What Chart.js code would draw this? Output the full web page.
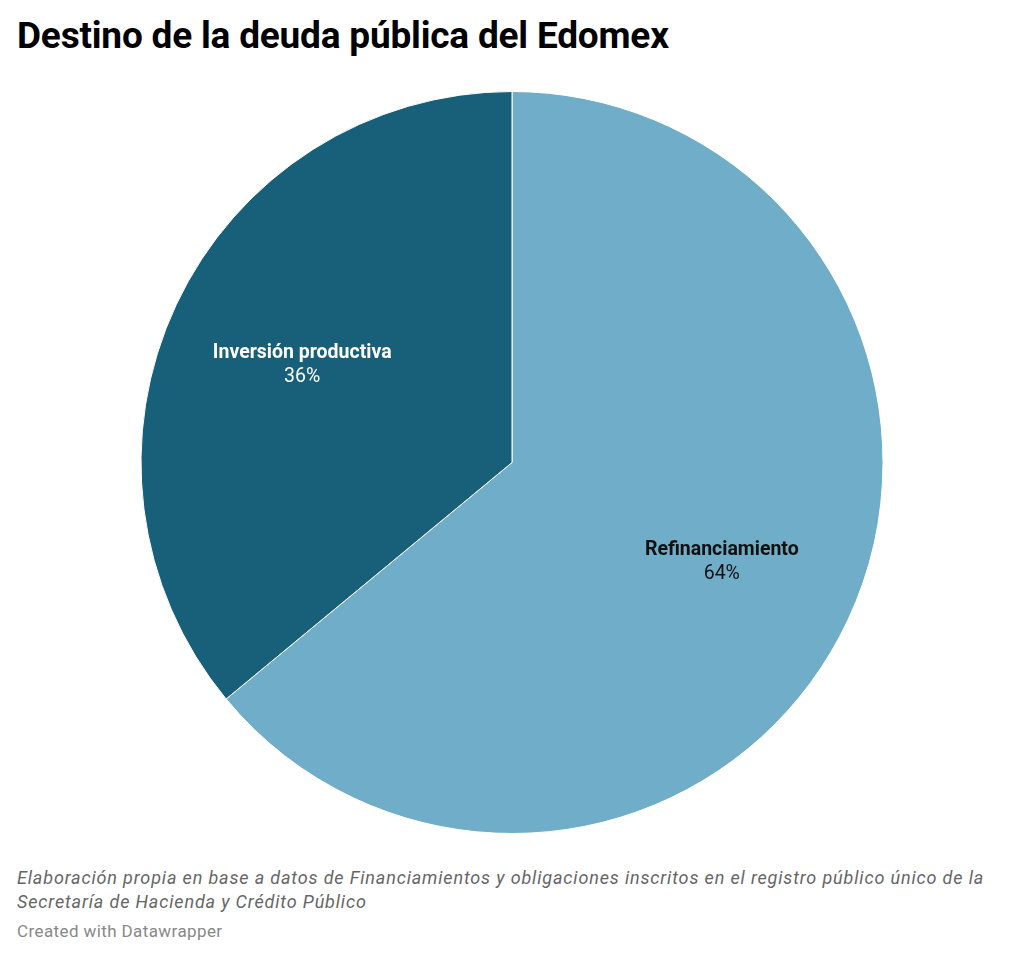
<!DOCTYPE html>
<html>
<head>
<meta charset="utf-8">
<script src="https://cdn.jsdelivr.net/npm/chart.js@4"></script>
<style>
  html, body { margin: 0; padding: 0; background: #fff; width: 1024px; height: 960px; overflow: hidden; }
  body { font-family: Roboto, "Noto Sans", sans-serif; position: relative; }
  h1 { position: absolute; left: 17px; top: 14px; margin: 0; font-size: 37px; font-weight: 700; color: #000; letter-spacing: -0.2px; }
  .chart-wrap { position: absolute; left: 0; top: 91px; width: 1024px; height: 743px; }
  .notes { position: absolute; left: 17px; top: 866px; font-size: 18px; font-style: italic; color: #666; line-height: 24px; letter-spacing: 0.85px; }
  .credit { position: absolute; left: 17px; top: 921px; font-size: 17px; color: #888; letter-spacing: 0.4px; }
</style>
</head>
<body>
<h1>Destino de la deuda pública del Edomex</h1>
<div class="chart-wrap"><canvas id="pie"></canvas></div>
<div class="notes">Elaboración propia en base a datos de Financiamientos y obligaciones inscritos en el registro público único de la<br>Secretaría de Hacienda y Crédito Público</div>
<div class="credit">Created with Datawrapper</div>
<script>
const categories = ['Refinanciamiento', 'Inversión productiva'];
const shares = [64, 36];
const sliceColors = ['#6fadc9', '#185f7a'];
const labelColors = ['#111', '#fff'];

// draw the category name + percentage inside each slice
const sliceLabels = {
  id: 'sliceLabels',
  afterDatasetsDraw(chart) {
    const c = chart.ctx;
    chart.getDatasetMeta(0).data.forEach((arc, i) => {
      const mid = (arc.startAngle + arc.endAngle) / 2;
      const r = arc.outerRadius * 0.625;
      const x = arc.x + Math.cos(mid) * r;
      const y = arc.y + Math.sin(mid) * r;
      c.save();
      c.textAlign = 'center';
      c.textBaseline = 'middle';
      c.fillStyle = labelColors[i];
      c.font = 'bold 19.5px Roboto';
      c.fillText(categories[i], x, y - 11);
      c.font = '19.5px Roboto';
      c.fillText(shares[i] + '%', x, y + 13);
      c.restore();
    });
  }
};

new Chart(document.getElementById('pie'), {
  type: 'pie',
  data: {
    labels: categories,
    datasets: [{
      data: shares,
      backgroundColor: sliceColors,
      borderColor: '#fff',
      borderWidth: 1
    }]
  },
  options: {
    responsive: true,
    maintainAspectRatio: false,
    animation: false,
    layout: { padding: 0 },
    plugins: {
      legend: { display: false },
      tooltip: { enabled: false }
    }
  },
  plugins: [sliceLabels]
});
</script>
</body>
</html>
